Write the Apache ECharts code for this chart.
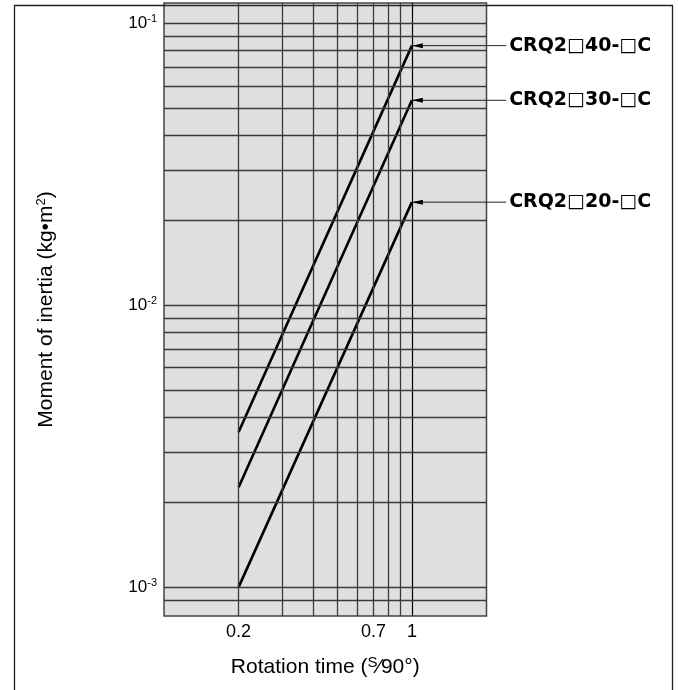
<!DOCTYPE html>
<html>
<head>
<meta charset="utf-8">
<script src="https://cdn.jsdelivr.net/npm/echarts@6/dist/echarts.min.js"></script>
<style>
html,body{margin:0;padding:0;background:#fff;}
#chart{width:678px;height:690px;}
</style>
</head>
<body>
<div id="chart"></div>
<script>
// ---- data ----
const modelNames = ['CRQ2\u25A140-\u25A1C', 'CRQ2\u25A130-\u25A1C', 'CRQ2\u25A120-\u25A1C'];
const rotationTimes = [0.2, 1];
const inertia40 = [0.00355, 0.0833];
const inertia30 = [0.00226, 0.0533];
const inertia20 = [0.001, 0.0232];
const xTickLabels = [0.2, 0.7, 1];
const xGridValues = [0.2, 0.3, 0.4, 0.5, 0.6, 0.7, 0.8, 0.9, 1];
const yGridValues = [0.0009, 0.001, 0.002, 0.003, 0.004, 0.005, 0.006, 0.007, 0.008, 0.009,
                     0.01, 0.02, 0.03, 0.04, 0.05, 0.06, 0.07, 0.08, 0.09, 0.1];
const xRange = [0.1, 2];
const yRange = [0.00079, 0.118];
const labelAnchorTime = 2.4;

// ---- layout ----
const W = 678;
const PLOT_LEFT = 164, PLOT_RIGHT = 191.5, PLOT_TOP = 3, PLOT_BOTTOM = 74;
const PLOT_W = W - PLOT_LEFT - PLOT_RIGHT;
// annotation layer: same log scale as the plot, extended to the right
const annotAxisMax = 2.6;
const annotRight = W - PLOT_LEFT - PLOT_W * Math.log(annotAxisMax / xRange[0]) / Math.log(xRange[1] / xRange[0]);

const FONT = "'Liberation Sans', Arial, Helvetica, sans-serif";
const BOLD_FONT = "'DejaVu Sans', 'Liberation Sans', Arial, sans-serif";
const chart = echarts.init(document.getElementById('chart'), null, {renderer: 'canvas'});

const curveSets = [inertia40, inertia30, inertia20];
const series = [];

// grid lines (through axis scales)
const gridLineData = [];
xGridValues.forEach(v => {
  const item = {xAxis: v};
  if (v === 1) item.lineStyle = {color: '#000', width: 1.2};
  if (xTickLabels.indexOf(v) >= 0) {
    item.label = {
      show: true, position: 'start', distance: 7,
      formatter: String(v), color: '#000', fontSize: 18, fontFamily: FONT
    };
  }
  gridLineData.push(item);
});
yGridValues.forEach(v => gridLineData.push({yAxis: v}));

series.push({
  type: 'line', data: [], silent: true, z: 1, animation: false,
  markLine: {
    silent: true, animation: false, symbol: ['none', 'none'],
    precision: 8,
    label: {show: false},
    lineStyle: {color: '#3a3a3a', width: 1.3, type: 'solid'},
    emphasis: {disabled: true},
    data: gridLineData
  }
});

curveSets.forEach((vals, i) => {
  series.push({
    type: 'line', name: modelNames[i], z: 3, animation: false,
    symbol: 'none',
    lineStyle: {color: '#000', width: 2.6},
    data: rotationTimes.map((t, j) => [t, vals[j]])
  });
  const endT = rotationTimes[rotationTimes.length - 1];
  const endV = vals[vals.length - 1];
  series.push({
    type: 'line', z: 4, animation: false, silent: true,
    xAxisIndex: 1, yAxisIndex: 1,
    symbol: 'path://M0,5 L12,0 L12,10 Z',
    symbolSize: [11, 5],
    symbolOffset: [5.5, 0],
    showSymbol: true,
    itemStyle: {color: '#000'},
    lineStyle: {color: '#222', width: 1},
    data: [
      {value: [endT, endV]},
      {value: [labelAnchorTime, endV], symbol: 'circle', symbolSize: 0, symbolOffset: [0, 0],
       label: {show: true, position: 'right', distance: 3, formatter: modelNames[i],
               fontWeight: 'bold', fontSize: 19, color: '#000', fontFamily: BOLD_FONT}}
    ]
  });
});

function powLabel(v) {
  const lg = Math.log10(v);
  const e = Math.round(lg);
  if (Math.abs(lg - e) > 1e-6) return '';
  return '10{sup|' + e + '}';
}

chart.setOption({
  backgroundColor: '#fff',
  animation: false,
  grid: [{
    left: PLOT_LEFT, right: PLOT_RIGHT, top: PLOT_TOP, bottom: PLOT_BOTTOM,
    show: true, backgroundColor: '#dfdfdf', borderColor: '#444', borderWidth: 1.5,
    containLabel: false, outerBoundsMode: 'none'
  }, {
    left: PLOT_LEFT, right: annotRight, top: PLOT_TOP, bottom: PLOT_BOTTOM,
    show: false, containLabel: false, outerBoundsMode: 'none'
  }],
  xAxis: [{
    type: 'log', logBase: 10, min: xRange[0], max: xRange[1],
    axisLine: {show: false}, axisTick: {show: false}, axisLabel: {show: false},
    splitLine: {show: false}, minorSplitLine: {show: false},
    name: 'Rotation time ({sup|S}\u204490\u00B0)',
    nameLocation: 'middle', nameGap: 39,
    nameTextStyle: {
      fontSize: 21, color: '#000', fontFamily: FONT,
      rich: {sup: {fontSize: 15, fontFamily: FONT, color: '#000', padding: [0, 0, 10, 0]}}
    }
  }, {
    gridIndex: 1, type: 'log', logBase: 10, min: xRange[0], max: annotAxisMax, show: false
  }],
  yAxis: [{
    type: 'log', logBase: 10, min: yRange[0], max: yRange[1],
    axisLine: {show: false}, axisTick: {show: false},
    splitLine: {show: false}, minorSplitLine: {show: false},
    axisLabel: {
      margin: 7, fontSize: 17, color: '#000', fontFamily: FONT,
      formatter: powLabel,
      rich: {sup: {fontSize: 11, color: '#000', fontFamily: FONT, padding: [0, 0, 9, 0]}}
    },
    name: 'Moment of inertia (kg\u2022m{sup|2})',
    nameLocation: 'middle', nameGap: 107,
    nameTextStyle: {
      fontSize: 21, color: '#000', fontFamily: FONT,
      rich: {sup: {fontSize: 13, color: '#000', fontFamily: FONT, padding: [0, 0, 9, 0]}}
    }
  }, {
    gridIndex: 1, type: 'log', logBase: 10, min: yRange[0], max: yRange[1], show: false
  }],
  graphic: [{
    type: 'rect', left: 12, top: 3, silent: true,
    shape: {width: 658, height: 720},
    style: {fill: 'none', stroke: '#222', lineWidth: 1.3}
  }],
  series: series
});
</script>
</body>
</html>
